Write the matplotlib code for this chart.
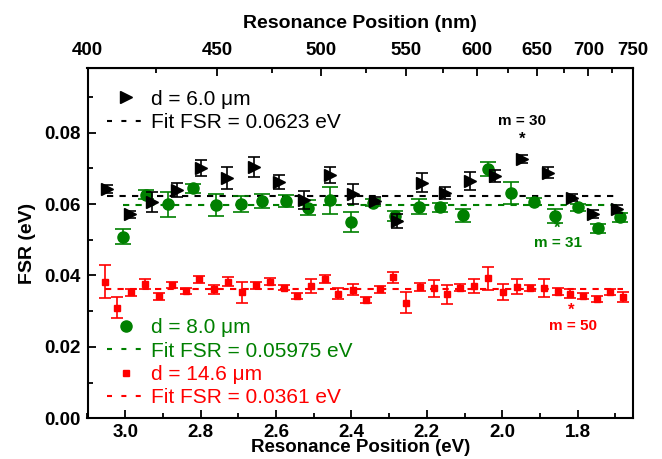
import numpy as np
import matplotlib
matplotlib.use('Agg')
import matplotlib.pyplot as plt
from matplotlib.lines import Line2D

plt.rcParams['font.family'] = ['Liberation Sans', 'DejaVu Sans']

# d = 6.0 um (black triangles)
ev_6 = [3.049, 2.988, 2.928, 2.863, 2.798, 2.731, 2.658, 2.591, 2.526, 2.458, 2.396,
        2.337, 2.280, 2.213, 2.152, 2.085, 2.019, 1.948, 1.878, 1.816, 1.758, 1.696]
fsr_6 = [0.0642, 0.0571, 0.0607, 0.0640, 0.0701, 0.0673, 0.0705, 0.0662, 0.0611, 0.0681, 0.0628,
         0.0609, 0.0553, 0.0660, 0.0630, 0.0665, 0.0679, 0.0726, 0.0688, 0.0618, 0.0572, 0.0586]
err_6 = [0.0010, 0.0010, 0.0028, 0.0020, 0.0023, 0.0030, 0.0028, 0.0019, 0.0025, 0.0023, 0.0027,
         0.0010, 0.0019, 0.0026, 0.0017, 0.0025, 0.0016, 0.0010, 0.0015, 0.0010, 0.0010, 0.0012]
fit_6 = 0.0623

# d = 8.0 um (green circles)
ev_8 = [3.007, 2.945, 2.886, 2.821, 2.758, 2.694, 2.637, 2.574, 2.514, 2.458, 2.400, 2.343,
        2.284, 2.222, 2.166, 2.104, 2.038, 1.976, 1.915, 1.859, 1.798, 1.745, 1.688]
fsr_8 = [0.0509, 0.0626, 0.0600, 0.0644, 0.0597, 0.0600, 0.0609, 0.0609, 0.0590, 0.0611, 0.0549, 0.0604,
         0.0567, 0.0593, 0.0591, 0.0568, 0.0698, 0.0631, 0.0606, 0.0567, 0.0591, 0.0532, 0.0563]
err_8 = [0.0022, 0.0012, 0.0035, 0.0012, 0.0031, 0.0022, 0.0020, 0.0017, 0.0020, 0.0038, 0.0028, 0.0010,
         0.0014, 0.0021, 0.0012, 0.0017, 0.0020, 0.0030, 0.0010, 0.0019, 0.0010, 0.0012, 0.0012]
fit_8 = 0.05975

# d = 14.6 um (red squares)
ev_14 = [3.054, 3.021, 2.985, 2.947, 2.910, 2.877, 2.839, 2.804, 2.764, 2.727, 2.689, 2.652, 2.616,
         2.579, 2.543, 2.506, 2.471, 2.435, 2.397, 2.362, 2.324, 2.290, 2.254, 2.218, 2.182, 2.147,
         2.111, 2.076, 2.038, 1.999, 1.961, 1.925, 1.889, 1.853, 1.820, 1.785, 1.749, 1.714, 1.679]
fsr_14 = [0.0383, 0.0310, 0.0353, 0.0377, 0.0342, 0.0374, 0.0356, 0.0389, 0.0361, 0.0383, 0.0353, 0.0372, 0.0383,
          0.0366, 0.0342, 0.0370, 0.0390, 0.0349, 0.0360, 0.0332, 0.0361, 0.0395, 0.0324, 0.0368, 0.0364, 0.0347,
          0.0366, 0.0371, 0.0392, 0.0353, 0.0369, 0.0365, 0.0365, 0.0355, 0.0349, 0.0342, 0.0335, 0.0353, 0.0339]
err_14 = [0.0046, 0.0029, 0.0010, 0.0014, 0.0010, 0.0008, 0.0008, 0.0010, 0.0012, 0.0012, 0.0029, 0.0010, 0.0010,
          0.0008, 0.0008, 0.0019, 0.0012, 0.0016, 0.0016, 0.0008, 0.0010, 0.0016, 0.0030, 0.0012, 0.0024, 0.0026,
          0.0010, 0.0020, 0.0033, 0.0022, 0.0020, 0.0008, 0.0024, 0.0010, 0.0012, 0.0008, 0.0008, 0.0008, 0.0014]
fit_14 = 0.0361

GREEN = '#008000'
RED = '#ff0000'


def ev2nm(e):
    e = np.asarray(e, dtype=float)
    with np.errstate(divide='ignore'):
        return 1239.84 / e


fig = plt.figure(figsize=(6.62, 4.59), dpi=100)
ax = fig.add_axes([87.5 / 662, 40.7 / 459, 545.5 / 662, 350 / 459])

# fit lines
ax.plot([ev_14[0], ev_14[-1]], [fit_14, fit_14], color=RED, lw=1.5, dashes=(3, 3), zorder=1)
ax.plot([ev_8[0], ev_8[-1]], [fit_8, fit_8], color=GREEN, lw=1.5, dashes=(3, 3), zorder=1)
ax.plot([ev_6[0], ev_6[-1]], [fit_6, fit_6], color='k', lw=1.5, dashes=(3, 3), zorder=1)

ax.errorbar(ev_14, fsr_14, yerr=err_14, fmt='s', color=RED, ms=5, capsize=4.5,
            elinewidth=1.2, capthick=1.2, zorder=2)
ax.errorbar(ev_8, fsr_8, yerr=err_8, fmt='o', color=GREEN, ms=8, capsize=5.5,
            elinewidth=1.2, capthick=1.2, zorder=3)
ax.errorbar(ev_6, fsr_6, yerr=err_6, fmt='>', color='k', ms=9, capsize=4.5,
            elinewidth=1.2, capthick=1.2, zorder=4)

# mode labels
ax.text(1.948, 0.0781, '*', color='k', ha='center', va='center', fontsize=12, fontweight='bold')
ax.text(1.948, 0.0833, 'm = 30', color='k', ha='center', va='center', fontsize=11, fontweight='bold')
ax.text(1.855, 0.0531, '*', color=GREEN, ha='center', va='center', fontsize=12, fontweight='bold')
ax.text(1.852, 0.0492, 'm = 31', color=GREEN, ha='center', va='center', fontsize=11, fontweight='bold')
ax.text(1.816, 0.0302, '*', color=RED, ha='center', va='center', fontsize=12, fontweight='bold')
ax.text(1.812, 0.0258, 'm = 50', color=RED, ha='center', va='center', fontsize=11, fontweight='bold')

ax.set_xlim(ev2nm(400), ev2nm(750))
ax.set_ylim(0, 0.098)
ax.set_xticks([3.0, 2.8, 2.6, 2.4, 2.2, 2.0, 1.8])
ax.set_xticks(np.arange(1.7, 3.15, 0.1), minor=True)
ax.set_yticks([0.00, 0.02, 0.04, 0.06, 0.08])
ax.set_yticks(np.arange(0.01, 0.1, 0.02), minor=True)
ax.xaxis.set_major_formatter(matplotlib.ticker.FormatStrFormatter('%.1f'))
ax.yaxis.set_major_formatter(matplotlib.ticker.FormatStrFormatter('%.2f'))
ax.tick_params(which='both', direction='in', right=False, top=False, width=1.3)
ax.tick_params(which='major', length=6, labelsize=13.5, pad=5)
ax.tick_params(axis='x', which='major', pad=4)
ax.tick_params(which='minor', length=3.5)
for lab in ax.get_xticklabels() + ax.get_yticklabels():
    lab.set_fontweight('bold')
for sp in ax.spines.values():
    sp.set_linewidth(1.5)
ax.set_xlabel('Resonance Position (eV)', fontsize=13.5, fontweight='bold', labelpad=-1)
ax.set_ylabel('FSR (eV)', fontsize=14, fontweight='bold', labelpad=6)

top = ax.secondary_xaxis('top', functions=(ev2nm, ev2nm))
top.set_xticks([400, 450, 500, 550, 600, 650, 700, 750])
top.set_xticks([425, 475, 525, 575, 625, 675, 725], minor=True)
top.tick_params(which='both', direction='in', width=1.3)
top.tick_params(which='major', length=6, labelsize=13.5, pad=7)
top.tick_params(which='minor', length=3.5)
for lab in top.get_xticklabels():
    lab.set_fontweight('bold')
top.set_xlabel('Resonance Position (nm)', fontsize=14, fontweight='bold', labelpad=10)

# legends
h6 = [Line2D([], [], ls='none', marker='>', color='k', ms=9),
      Line2D([], [], color='k', lw=1.5, dashes=(2.4, 4.5))]
leg1 = ax.legend(h6, ['d = 6.0 μm', 'Fit FSR = 0.0623 eV'], loc='upper left',
                 bbox_to_anchor=(0.035, 0.939), frameon=False, fontsize=15, borderpad=0,
                 borderaxespad=0, handlelength=1.9, handletextpad=0.25, labelspacing=0.21)
ax.add_artist(leg1)

h_low = [Line2D([], [], ls='none', marker='o', color=GREEN, ms=8),
         Line2D([], [], color=GREEN, lw=1.5, dashes=(2.4, 4.5)),
         Line2D([], [], ls='none', marker='s', color=RED, ms=5),
         Line2D([], [], color=RED, lw=1.5, dashes=(2.4, 4.5))]
leg2 = ax.legend(h_low, ['d = 8.0 μm', 'Fit FSR = 0.05975 eV', 'd = 14.6 μm', 'Fit FSR = 0.0361 eV'],
                 loc='upper left', bbox_to_anchor=(0.035, 0.286), frameon=False, fontsize=15,
                 borderpad=0, borderaxespad=0, handlelength=1.9, handletextpad=0.25, labelspacing=0.21)
for t, c in zip(leg2.get_texts(), [GREEN, GREEN, RED, RED]):
    t.set_color(c)

fig.savefig('out.png', dpi=100)
